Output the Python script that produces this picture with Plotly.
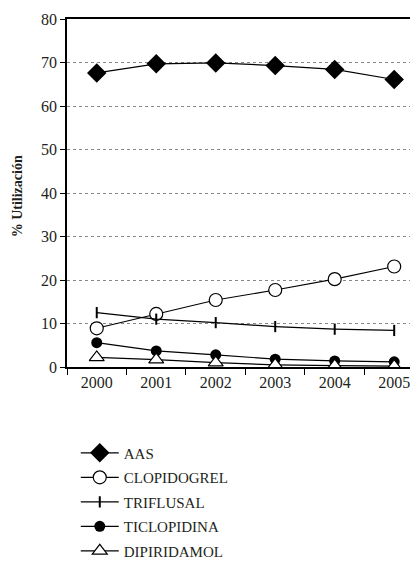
import plotly.graph_objects as go

years = ["2000", "2001", "2002", "2003", "2004", "2005"]
aas = [67.6, 69.7, 69.9, 69.3, 68.4, 66.1]
clopidogrel = [8.9, 12.2, 15.4, 17.7, 20.2, 23.1]
triflusal = [12.5, 11.0, 10.2, 9.3, 8.7, 8.4]
ticlopidina = [5.6, 3.7, 2.8, 1.8, 1.4, 1.2]
dipiridamol = [2.2, 1.7, 1.0, 0.5, 0.3, 0.2]
y_ticks = [0, 10, 20, 30, 40, 50, 60, 70, 80]

FONT = "Liberation Serif"
TXT = "#231f20"

series = [
    ("AAS", aas, dict(symbol="diamond", size=15, color="black")),
    ("CLOPIDOGREL", clopidogrel, dict(symbol="circle", size=13, color="white", line=dict(color="black", width=1.2))),
    ("TRIFLUSAL", triflusal, dict(symbol="line-ns", size=8, color="black", line=dict(color="black", width=2))),
    ("TICLOPIDINA", ticlopidina, dict(symbol="circle", size=11, color="black")),
    ("DIPIRIDAMOL", dipiridamol, dict(symbol="triangle-up", size=13, color="white", line=dict(color="black", width=1.2))),
]

fig = go.Figure()
for i, (name, vals, mk) in enumerate(series):
    fig.add_trace(go.Scatter(
        x=years, y=vals, name=name, mode="lines+markers",
        line=dict(color="black", width=1.2), marker=mk,
        legendgroup=f"g{i}",
    ))

# page body has an 8px margin, so the figure is 8px smaller and margins compensate
fig.update_layout(
    width=410, height=554,
    margin=dict(l=59, r=0, t=11, b=195, autoexpand=False),
    paper_bgcolor="white", plot_bgcolor="white",
    font=dict(family=FONT, size=16, color=TXT),
    showlegend=True,
    legend=dict(
        x=0.025, y=-0.2, xanchor="left", yanchor="top",
        font=dict(family=FONT, size=15, color=TXT),
        tracegroupgap=2, itemwidth=38, bgcolor="rgba(0,0,0,0)",
    ),
    annotations=[dict(
        text="<b>% Utilización</b>", textangle=-90,
        xref="paper", yref="paper", x=-0.14, y=0.49,
        xanchor="center", yanchor="middle", showarrow=False,
        font=dict(family=FONT, size=14, color=TXT),
    )],
)
fig.update_xaxes(
    type="category", range=[-0.5, 5.4],
    showline=True, linecolor="black", linewidth=1.5, mirror=True,
    ticks="outside", tickson="boundaries", ticklen=6, tickcolor="black", tickwidth=1.2,
    showgrid=False, zeroline=False, automargin=False,
    tickfont=dict(family=FONT, size=16, color=TXT),
)
fig.update_yaxes(
    range=[0, 80], tickvals=y_ticks,
    showline=True, linecolor="black", linewidth=1.5,
    ticks="outside", ticklen=5, tickcolor="black", tickwidth=1.2,
    showgrid=True, gridcolor="#888", griddash="dot", gridwidth=1,
    zeroline=False, automargin=False,
    tickfont=dict(family=FONT, size=16, color=TXT),
)

fig.write_html("out.html")
